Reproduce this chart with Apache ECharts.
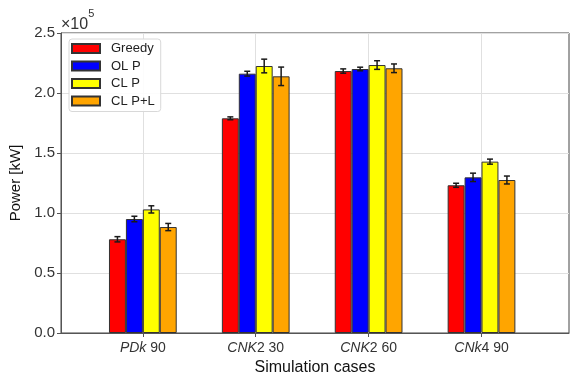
<!DOCTYPE html>
<html><head><meta charset="utf-8">
<script src="https://cdn.jsdelivr.net/npm/echarts@6/dist/echarts.min.js"></script>
<style>html,body{margin:0;padding:0;background:#fff}#c{width:581px;height:388px}</style>
</head><body><div id="c"></div>
<script>
// Data (Power in kW)
const categories = [["PDk", " 90"], ["CNK", "2 30"], ["CNK", "2 60"], ["CNk", "4 90"]];
const seriesNames = ["Greedy", "OL P", "CL P", "CL P+L"];
const greedy  = [78100, 178900, 218300, 123100];
const olP     = [95000, 216100, 220000, 129700];
const clP     = [103000, 222500, 223300, 142800];
const clPL    = [88300, 213900, 220600, 127500];
const greedyErr = [2200, 1200, 1800, 1700];
const olPErr    = [2300, 2000, 1500, 3500];
const clPErr    = [3000, 5700, 3600, 2100];
const clPLErr   = [3000, 7700, 3600, 3300];
const yTicks = [0, 50000, 100000, 150000, 200000, 250000];
const colors = ["#ff0000", "#0000ff", "#ffff00", "#ffa500"];

const values = [greedy, olP, clP, clPL];
const errs = [greedyErr, olPErr, clPErr, clPLErr];
const FONT = "Liberation Sans";
const BAR_FRAC = 0.15;

const chart = echarts.init(document.getElementById('c'), null, {renderer: 'canvas'});

const barSeries = seriesNames.map((name, s) => ({
  name: name,
  type: 'bar',
  barWidth: (BAR_FRAC * 100) + '%',
  barGap: '0%',
  data: values[s].map((v, i) => [i, v]),
  itemStyle: {color: colors[s], borderColor: '#333', borderWidth: 1},
  z: 2
}));

const errData = [];
values.forEach((arr, s) => arr.forEach((v, i) => errData.push([i, s, v, errs[s][i]])));

const errSeries = {
  type: 'custom',
  data: errData,
  encode: {x: 0, y: 2},
  z: 5,
  silent: true,
  renderItem: function (params, api) {
    const i = api.value(0), s = api.value(1), v = api.value(2), e = api.value(3);
    const bw = api.size([1, 0])[0] * BAR_FRAC;
    const cx = api.coord([i, 0])[0] + (s - 1.5) * bw;
    const yt = api.coord([i, v + e])[1];
    const yb = api.coord([i, v - e])[1];
    const cap = 3;
    const st = {stroke: '#1a1a1a', lineWidth: 1.5};
    return {type: 'group', children: [
      {type: 'line', shape: {x1: cx, y1: yt, x2: cx, y2: yb}, style: st},
      {type: 'line', shape: {x1: cx - cap, y1: yt, x2: cx + cap, y2: yt}, style: st},
      {type: 'line', shape: {x1: cx - cap, y1: yb, x2: cx + cap, y2: yb}, style: st}
    ]};
  }
};

chart.setOption({
  animation: false,
  textStyle: {fontFamily: FONT},
  grid: {left: 61, right: 12, top: 33, bottom: 55, show: true, borderColor: '#444', borderWidth: 1},
  legend: {
    orient: 'vertical', left: 69, top: 39,
    data: seriesNames,
    icon: 'rect', itemWidth: 28, itemHeight: 9, itemGap: 4.5,
    backgroundColor: 'rgba(255,255,255,0.9)', borderColor: '#d8d8d8', borderWidth: 1, borderRadius: 3,
    padding: [3, 6, 4, 2],
    textStyle: {fontFamily: FONT, fontSize: 13, color: '#222', padding: [0, 0, 0, 6]}
  },
  xAxis: {
    type: 'value', min: -0.725, max: 3.775,
    name: 'Simulation cases', nameLocation: 'middle', nameGap: 27,
    nameTextStyle: {fontFamily: FONT, fontSize: 16, color: '#111'},
    axisLine: {show: true, onZero: false, lineStyle: {color: '#555', width: 1}},
    axisTick: {show: true, customValues: [0, 1, 2, 3], length: 4, lineStyle: {color: '#555'}},
    splitLine: {show: true, lineStyle: {color: '#e0e0e0', width: 1}},
    axisLabel: {
      customValues: [0, 1, 2, 3], margin: 8,
      formatter: function (v) { const c = categories[Math.round(v)]; return '{i|' + c[0] + '}{n|' + c[1] + '}'; },
      rich: {
        i: {fontFamily: FONT, fontSize: 14, fontStyle: 'italic', color: '#333'},
        n: {fontFamily: FONT, fontSize: 14, color: '#333'}
      }
    }
  },
  yAxis: {
    type: 'value', min: 0, max: 250000, interval: 50000,
    name: 'Power [kW]', nameLocation: 'middle', nameGap: 36, nameRotate: 90,
    nameTextStyle: {fontFamily: FONT, fontSize: 15, color: '#111'},
    axisLine: {show: true, onZero: false, lineStyle: {color: '#555', width: 1}},
    axisTick: {show: true, length: 4, lineStyle: {color: '#555'}},
    splitLine: {show: true, lineStyle: {color: '#e0e0e0', width: 1}},
    axisLabel: {
      margin: 6, fontFamily: FONT, fontSize: 15, color: '#333',
      formatter: v => (v / 100000).toFixed(1)
    }
  },
  graphic: [{
    type: 'text', left: 61, top: 8,
    style: {
      text: '{a|×10}{b|5}', fill: '#333',
      rich: {a: {fontFamily: FONT, fontSize: 16, verticalAlign: 'bottom', padding: [9, 0, 0, 0]}, b: {fontFamily: FONT, fontSize: 11, verticalAlign: 'top'}}
    }
  }],
  series: barSeries.concat([errSeries])
});
</script></body></html>
